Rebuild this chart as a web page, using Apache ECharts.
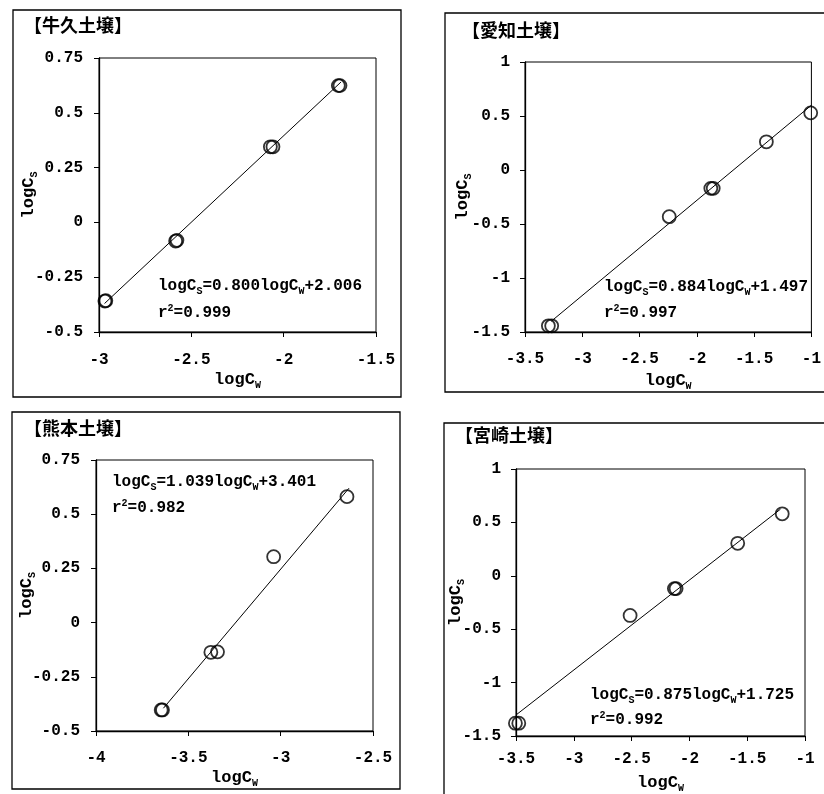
<!DOCTYPE html>
<html><head><meta charset="utf-8">
<script src="https://cdn.jsdelivr.net/npm/echarts@6/dist/echarts.min.js"></script>
<style>html,body{margin:0;padding:0;background:#fff}#c{width:824px;height:794px}</style>
</head><body><div id="c"></div>
<script>
// ---------- data ----------
const titles = ['【牛久土壌】', '【愛知土壌】', '【熊本土壌】', '【宮崎土壌】'];

const ushikuX = [-2.968, -2.963, -2.585, -2.578, -2.072, -2.058, -1.704, -1.695];
const ushikuY = [-0.359, -0.357, -0.085, -0.082, 0.345, 0.345, 0.624, 0.624];
const aichiX = [-3.296, -3.267, -2.241, -1.878, -1.857, -1.393, -1.006];
const aichiY = [-1.443, -1.443, -0.432, -0.170, -0.170, 0.261, 0.529];
const kumamotoX = [-3.647, -3.640, -3.378, -3.342, -3.038, -2.641];
const kumamotoY = [-0.403, -0.403, -0.137, -0.135, 0.304, 0.581];
const miyazakiX = [-3.505, -3.476, -2.513, -2.130, -2.115, -1.582, -1.197];
const miyazakiY = [-1.380, -1.380, -0.371, -0.120, -0.120, 0.304, 0.580];

// regression line end points
const ushikuFit = [[-2.97, -0.37], [-1.69, 0.64]];
const aichiFit = [[-3.27, -1.40], [-1.00, 0.60]];
const kumamotoFit = [[-3.635, -0.395], [-2.63, 0.62]];
const miyazakiFit = [[-3.496, -1.30], [-1.212, 0.624]];

const slopes = ['0.800', '0.884', '1.039', '0.875'];
const intercepts = ['2.006', '1.497', '3.401', '1.725'];
const r2s = ['0.999', '0.997', '0.982', '0.992'];

const xMins = [-3, -3.5, -4, -3.5];
const xMaxs = [-1.5, -1, -2.5, -1];
const yMins = [-0.5, -1.5, -0.5, -1.5];
const yMaxs = [0.75, 1, 0.75, 1];
const xIntervals = [0.5, 0.5, 0.5, 0.5];
const yIntervals = [0.25, 0.5, 0.25, 0.5];

// ---------- layout ----------
const MONO = '"Liberation Mono", "DejaVu Sans Mono", monospace';
const CJK = '"Noto Sans CJK JP", sans-serif';
const xs = [ushikuX, aichiX, kumamotoX, miyazakiX];
const ys = [ushikuY, aichiY, kumamotoY, miyazakiY];
const fits = [ushikuFit, aichiFit, kumamotoFit, miyazakiFit];

const gridPos = [
  {left: 99, top: 58, width: 277, height: 274},
  {left: 525, top: 62, width: 287, height: 270},
  {left: 96, top: 460, width: 277, height: 271},
  {left: 516, top: 469, width: 289, height: 271}
];
const xLabelMargin = [20, 19, 19, 15];
const xNameGap = [38, 39, 37, 37];
const yNameGap = [60, 52, 59, 50];
const yLabelMargin = [16, 15, 16, 15];
const frames = [
  {x: 13, y: 10, width: 388, height: 387},
  {x: 445, y: 13, width: 390, height: 379},
  {x: 12, y: 412, width: 388, height: 377},
  {x: 444, y: 423, width: 390, height: 400}
];
const titlePos = [[24, 25], [462, 30], [24, 428], [455, 435]];
const eqPos = [[158, 286, 313], [604, 287, 313], [112, 482, 508], [590, 695, 720]];

const richName = {
  a: {fontFamily: MONO, fontSize: 17, fontWeight: 'bold', color: '#000', lineHeight: 20},
  b: {fontFamily: MONO, fontSize: 10, fontWeight: 'bold', color: '#000', lineHeight: 12, verticalAlign: 'bottom'}
};
const richEq = {
  t: {fontFamily: MONO, fontSize: 16, fontWeight: 'bold', fill: '#000', lineHeight: 20},
  s: {fontFamily: MONO, fontSize: 10, fontWeight: 'bold', fill: '#000', lineHeight: 12, verticalAlign: 'bottom'},
  p: {fontFamily: MONO, fontSize: 10, fontWeight: 'bold', fill: '#000', lineHeight: 12, verticalAlign: 'top'}
};

const grid = [], xAxis = [], yAxis = [], series = [], graphic = [];
for (let i = 0; i < 4; i++) {
  grid.push(Object.assign({show: true, borderColor: '#000', borderWidth: 1, backgroundColor: '#fff'}, gridPos[i]));
  xAxis.push({
    type: 'value', gridIndex: i, min: xMins[i], max: xMaxs[i], interval: xIntervals[i],
    splitLine: {show: false},
    axisLine: {show: true, onZero: false, lineStyle: {color: '#000', width: 1.3}},
    axisTick: {show: true, length: 5, lineStyle: {color: '#000'}},
    axisLabel: {color: '#000', fontFamily: MONO, fontSize: 16, fontWeight: 'bold', margin: xLabelMargin[i]},
    name: '{a|logC}{b|W}', nameLocation: 'middle', nameGap: xNameGap[i], nameMoveOverlap: false,
    nameTextStyle: {rich: richName}
  });
  yAxis.push({
    type: 'value', gridIndex: i, min: yMins[i], max: yMaxs[i], interval: yIntervals[i],
    splitLine: {show: false},
    axisLine: {show: true, onZero: false, lineStyle: {color: '#000', width: 1.3}},
    axisTick: {show: true, length: 5, lineStyle: {color: '#000'}},
    axisLabel: {color: '#000', fontFamily: MONO, fontSize: 16, fontWeight: 'bold', margin: yLabelMargin[i]},
    name: '{a|logC}{b|S}', nameLocation: 'middle', nameGap: yNameGap[i], nameMoveOverlap: false,
    nameTextStyle: {rich: richName}
  });
  series.push({
    type: 'line', xAxisIndex: i, yAxisIndex: i, data: fits[i], symbol: 'none', clip: false,
    lineStyle: {color: '#000', width: 1}, silent: true, animation: false
  });
  series.push({
    type: 'scatter', xAxisIndex: i, yAxisIndex: i, clip: false, animation: false,
    data: xs[i].map((x, k) => [x, ys[i][k]]),
    symbol: 'circle', symbolSize: 13,
    itemStyle: {color: 'rgba(255,255,255,0)', borderColor: '#000', borderWidth: 1.8}
  });
  graphic.push({
    type: 'rect', shape: frames[i], z: -10,
    style: {fill: 'none', stroke: '#000', lineWidth: 1.3}
  });
  graphic.push({
    type: 'text', x: titlePos[i][0], y: titlePos[i][1],
    style: {text: titles[i], font: 'bold 18px ' + CJK, fill: '#000', verticalAlign: 'middle', align: 'left'}
  });
  graphic.push({
    type: 'text', x: eqPos[i][0], y: eqPos[i][1],
    style: {text: '{t|logC}{s|S}{t|=' + slopes[i] + 'logC}{s|W}{t|+' + intercepts[i] + '}',
      rich: richEq, verticalAlign: 'middle', align: 'left'}
  });
  graphic.push({
    type: 'text', x: eqPos[i][0], y: eqPos[i][2],
    style: {text: '{t|r}{p|2}{t|=' + r2s[i] + '}', rich: richEq, verticalAlign: 'middle', align: 'left'}
  });
}

const chart = echarts.init(document.getElementById('c'), null, {renderer: 'canvas'});
chart.setOption({
  backgroundColor: '#fff',
  animation: false,
  grid, xAxis, yAxis, series, graphic
});
</script></body></html>
